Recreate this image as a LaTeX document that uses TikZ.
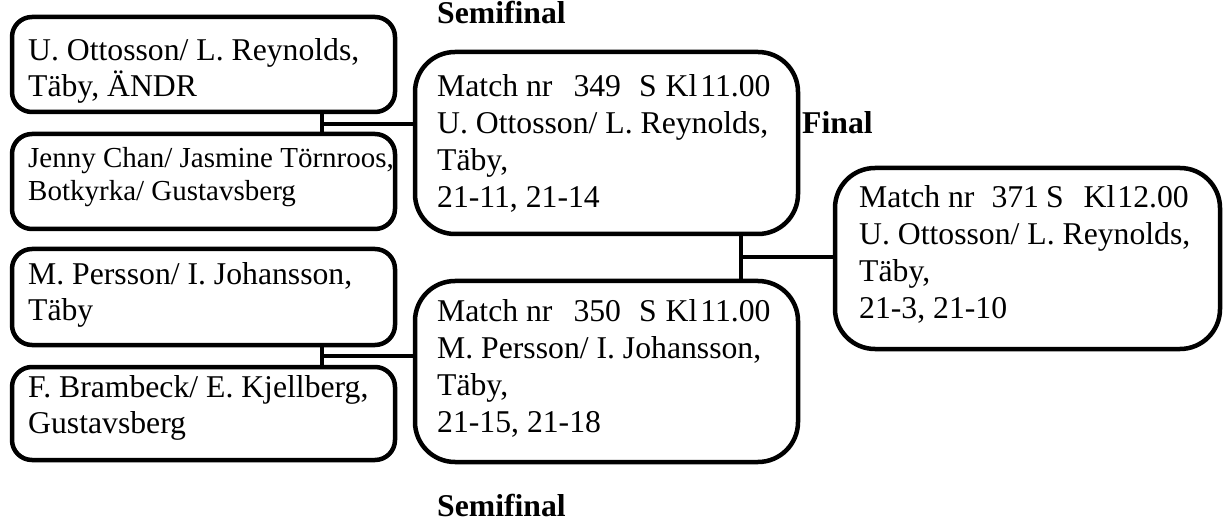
\documentclass[tikz,border=0pt]{standalone}
\usepackage{fontspec}
\setmainfont{Liberation Serif}
\begin{document}
\begin{tikzpicture}[x=1pt,y=-1pt,
  pbox/.style={draw, line width=4.5pt, rounded corners=20pt, inner sep=0pt, minimum width=383pt},
  mbox/.style={draw, line width=4.5pt, rounded corners=40pt, inner sep=0pt},
  ptxt/.style={anchor=north west, inner sep=0pt, align=left, font=\fontsize{31.7}{36}\selectfont},
  ptxtsmall/.style={anchor=north west, inner sep=0pt, align=left, font=\fontsize{29}{33.5}\selectfont},
  mtxt/.style={anchor=north west, inner sep=0pt, align=left, font=\fontsize{31.7}{37}\selectfont},
  lbl/.style={anchor=base west, inner sep=0pt, font=\fontsize{31.7}{37}\selectfont\bfseries},
  conn/.style={line width=4.5pt}]
\useasboundingbox (0,0) rectangle (1223,521);

% player boxes
\node[pbox, minimum height=95pt] (a) at (203.5,64.5) {};
\node[pbox, minimum height=95pt] (b) at (203.5,181.5) {};
\node[pbox, minimum height=96pt] (c) at (203.5,297) {};
\node[pbox, minimum height=93pt] (d) at (203.5,413.5) {};

% match boxes
\node[mbox, minimum width=383pt, minimum height=182pt] (m349) at (606.5,143) {};
\node[mbox, minimum width=383pt, minimum height=181pt] (m350) at (606.5,371.5) {};
\node[mbox, minimum width=385pt, minimum height=181pt] (fin) at (1027.5,258.5) {};

% texts
\node[ptxt] (ta) at (28,30) {\rule{0pt}{30pt}U. Ottosson/ L. Reynolds,\\Täby, ÄNDR};
\node[ptxtsmall] (tb) at (28,137) {\rule{0pt}{30pt}Jenny Chan/ Jasmine Törnroos,\\Botkyrka/ Gustavsberg};
\node[ptxt] (tc) at (28,254) {\rule{0pt}{30pt}M. Persson/ I. Johansson,\\Täby};
\node[ptxt] (td) at (28,367) {\rule{0pt}{30pt}F. Brambeck/ E. Kjellberg,\\Gustavsberg};

\node[mtxt] (t349) at (437,66) {\rule{0pt}{30pt}Match nr\hspace{21pt}349\hspace{18pt}S\hspace{9pt}Kl\hspace{3pt}11.00\\U. Ottosson/ L. Reynolds,\\Täby,\\21-11, 21-14};
\node[mtxt] (t350) at (437,291) {\rule{0pt}{30pt}Match nr\hspace{21pt}350\hspace{18pt}S\hspace{9pt}Kl\hspace{3pt}11.00\\M. Persson/ I. Johansson,\\Täby,\\21-15, 21-18};
\node[mtxt] (tfin) at (859,177) {\rule{0pt}{30pt}Match nr\hspace{17pt}371\hspace{7pt}S\hspace{20pt}Kl\hspace{2pt}12.00\\U. Ottosson/ L. Reynolds,\\Täby,\\21-3, 21-10};

% labels
\node[lbl] (s1) at (437,24) {Semifinal};
\node[lbl] (fl) at (802,134) {Final};
\node[lbl] (s2) at (437,516) {Semifinal};

% connectors
\coordinate (j1) at (322,124);
\coordinate (j2) at (322,356);
\coordinate (j3) at (741,257);
\draw[conn] (a.south -| j1) -- (b.north -| j1);
\draw[conn] (j1) -- (m349.west |- j1);
\draw[conn] (c.south -| j2) -- (d.north -| j2);
\draw[conn] (j2) -- (m350.west |- j2);
\draw[conn] (m349.south -| j3) -- (m350.north -| j3);
\draw[conn] (j3) -- (fin.west |- j3);
\end{tikzpicture}
\end{document}
